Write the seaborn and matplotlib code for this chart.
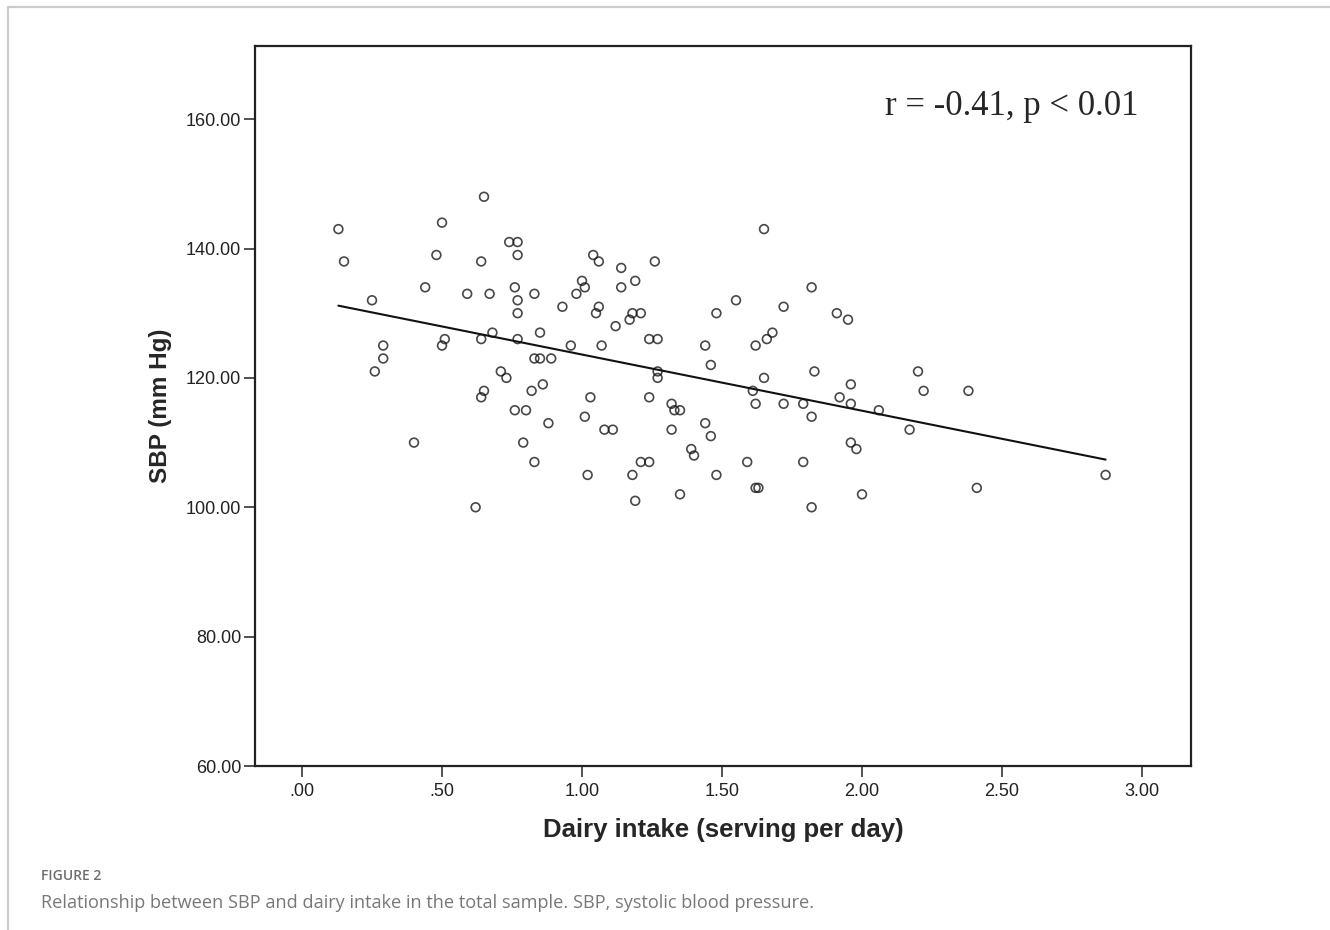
import matplotlib
matplotlib.use("Agg")
import matplotlib.pyplot as plt
from matplotlib.lines import Line2D
import pandas as pd
import seaborn as sns

# values
dairy = [0.13, 0.15, 0.25, 0.29, 0.29, 0.26, 0.40, 0.44, 0.50, 0.48,
         0.59, 0.65, 0.64, 0.67, 0.51, 0.50, 0.68, 0.64, 0.71, 0.73,
         0.65, 0.64, 0.76, 0.62, 0.74, 0.77, 0.77, 0.76, 0.77, 0.77,
         0.77, 0.79, 0.83, 0.85, 0.83, 0.85, 0.89, 0.82, 0.86, 0.80,
         0.88, 0.83, 0.93, 0.96, 1.00, 1.01, 0.98, 1.04, 1.06, 1.06,
         1.05, 1.07, 1.03, 1.01, 1.08, 1.11, 1.02, 1.14, 1.14, 1.19,
         1.12, 1.17, 1.18, 1.21, 1.24, 1.27, 1.26, 1.27, 1.27, 1.24,
         1.32, 1.33, 1.35, 1.32, 1.21, 1.24, 1.18, 1.19, 1.35, 1.39,
         1.40, 1.65, 1.82, 1.55, 1.48, 1.72, 1.91, 1.95, 1.68, 1.66,
         1.62, 1.44, 1.46, 1.65, 1.61, 1.62, 1.72, 1.79, 1.82, 1.83,
         1.92, 1.96, 1.96, 2.06, 1.44, 1.46, 1.59, 1.79, 1.48, 1.62,
         1.63, 1.82, 2.00, 1.96, 1.98, 2.20, 2.22, 2.38, 2.17, 2.41,
         2.87]
sbp = [143, 138, 132, 125, 123, 121, 110, 134, 144, 139,
       133, 148, 138, 133, 126, 125, 127, 126, 121, 120,
       118, 117, 115, 100, 141, 141, 139, 134, 132, 130,
       126, 110, 133, 127, 123, 123, 123, 118, 119, 115,
       113, 107, 131, 125, 135, 134, 133, 139, 138, 131,
       130, 125, 117, 114, 112, 112, 105, 137, 134, 135,
       128, 129, 130, 130, 126, 126, 138, 121, 120, 117,
       116, 115, 115, 112, 107, 107, 105, 101, 102, 109,
       108, 143, 134, 132, 130, 131, 130, 129, 127, 126,
       125, 125, 122, 120, 118, 116, 116, 116, 114, 121,
       117, 119, 116, 115, 113, 111, 107, 107, 105, 103,
       103, 100, 102, 110, 109, 121, 118, 118, 112, 103,
       105]

x_ticks = [0.0, 0.5, 1.0, 1.5, 2.0, 2.5, 3.0]
x_tick_labels = [".00", ".50", "1.00", "1.50", "2.00", "2.50", "3.00"]
y_ticks = [60, 80, 100, 120, 140, 160]
y_tick_labels = ["60.00", "80.00", "100.00", "120.00", "140.00", "160.00"]
stat_text = "r = -0.41, p < 0.01"

df = pd.DataFrame({"dairy": dairy, "sbp": sbp})

sns.set_style("ticks")
plt.rcParams["font.family"] = ["Liberation Sans", "DejaVu Sans"]

fig = plt.figure(figsize=(13.3, 9.3), dpi=100)
ax = fig.add_axes([0.1917, 0.1763, 0.7036, 0.7742])

sns.regplot(data=df, x="dairy", y="sbp", ax=ax, ci=None,
            scatter_kws=dict(s=40, facecolors="none", edgecolors="#1a1a1a",
                             linewidths=1.2),
            line_kws=dict(color="#111111", linewidth=1.5))

ax.set_xlim(-0.168, 3.174)
ax.set_ylim(60, 171.3)
ax.set_xticks(x_ticks)
ax.set_xticklabels(x_tick_labels)
ax.set_yticks(y_ticks)
ax.set_yticklabels(y_tick_labels)
ax.tick_params(axis="both", labelsize=13, labelcolor="#222222",
               length=8, width=1.1, color="#222222", direction="out")
ax.tick_params(axis="x", pad=4)
ax.tick_params(axis="y", pad=2)

for sp in ax.spines.values():
    sp.set_visible(True)
    sp.set_color("#222222")
    sp.set_linewidth(1.6)

ax.set_xlabel("Dairy intake (serving per day)", fontsize=18.5,
              fontweight="bold", labelpad=13)
ax.set_ylabel("SBP (mm Hg)", fontsize=17.5, fontweight="bold", labelpad=10)

ax.text(0.673, 0.904, stat_text, transform=ax.transAxes, va="baseline",
        ha="left", fontsize=25, family=["Liberation Serif", "DejaVu Serif"])

# page frame and caption
fig.add_artist(Line2D([8 / 1330, 1.0], [1 - 7 / 930, 1 - 7 / 930],
                      transform=fig.transFigure, color="#cccccc", linewidth=1.6))
fig.add_artist(Line2D([8 / 1330, 8 / 1330], [0.0, 1 - 7 / 930],
                      transform=fig.transFigure, color="#cccccc", linewidth=1.6))
fig.text(41 / 1330, 1 - 876 / 930, "FIGURE 2", fontsize=10, fontweight="semibold",
         color="#6e6e6e", va="center", family=["Open Sans", "DejaVu Sans"])
fig.text(41 / 1330, 1 - 903 / 930,
         "Relationship between SBP and dairy intake in the total sample. "
         "SBP, systolic blood pressure.",
         fontsize=13.1, color="#777777", va="center",
         family=["Open Sans", "DejaVu Sans"])

fig.savefig("out.png", dpi=100, facecolor="white")
